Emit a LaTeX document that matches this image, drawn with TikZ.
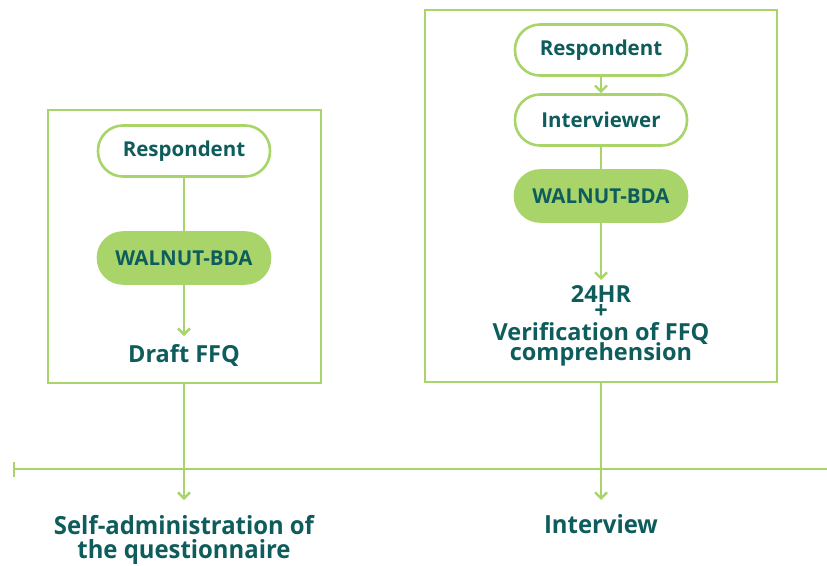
\documentclass[tikz,border=0pt]{standalone}
\usepackage{fontspec}
\setmainfont{Open Sans}
\usetikzlibrary{arrows.meta}
\definecolor{lgreen}{HTML}{A8D46A}
\definecolor{teal}{HTML}{0E5C5C}
\tikzset{
  pill/.style={draw=lgreen, line width=2.6pt, rounded corners=25pt, minimum width=172pt, minimum height=51pt, text=teal, font=\bfseries\fontsize{20.5}{22}\selectfont, inner sep=0pt},
  pillfill/.style={pill, fill=lgreen},
  frame/.style={draw=lgreen, line width=2.6pt},
  conn/.style={draw=lgreen, line width=2.6pt},
  arr/.style={conn, -{Straight Barb[length=6pt,width=12pt,line width=2.4pt]}},
  lbl/.style={text=teal, font=\bfseries\fontsize{23.5}{18}\selectfont, align=center, inner sep=0pt, anchor=base},
  blbl/.style={text=teal, font=\bfseries\fontsize{25}{24}\selectfont, align=center, inner sep=0pt, anchor=base},
}
\begin{document}
\begin{tikzpicture}[x=1pt,y=-1pt]
\useasboundingbox (0,0) rectangle (827,565);
% left frame
\draw[frame] (48,110) rectangle (321,383);
\node[pill] (r1) at (184,151) {Respondent};
\node[pillfill] (w1) at (184,258) {WALNUT-BDA};
\node[lbl] (d1) at (184,362) {Draft FFQ};
\coordinate (b1) at (184,383);
\draw[conn] (r1) -- (w1);
\draw[arr] (w1) -- (184,336);
% right frame
\draw[frame] (425,10) rectangle (777,382);
\node[pill] (r2) at (601,50) {Respondent};
\node[pill] (i2) at (601,120) {Interviewer};
\node[pillfill] (w2) at (601,196) {WALNUT-BDA};
\node[lbl, anchor=north] (d2) at (601,285.5) {24HR\\[-2pt]+\\[4pt]Verification of FFQ\\[-3pt]comprehension};
\coordinate (b2) at (601,382);
\draw[arr] (r2) -- (i2);
\draw[conn] (i2) -- (w2);
\draw[arr] (w2) -- (601,280);
% timeline
\coordinate (tl) at (14,469);
\coordinate (tr) at (827,469);
\draw[conn] (tl) -- (tr);
\draw[conn] (14,462) -- (14,477);
\coordinate (a1) at (184,500);
\coordinate (a2) at (601,500);
\draw[arr] (b1) -- (a1);
\draw[arr] (b2) -- (a2);
\node[blbl, anchor=north] (s1) at (184,515) {\scalebox{0.955}[1]{Self-administration of}\\\scalebox{0.955}[1]{the questionnaire}};
\node[blbl] (s2) at (601,533) {\scalebox{0.955}[1]{Interview}};
\end{tikzpicture}
\end{document}
